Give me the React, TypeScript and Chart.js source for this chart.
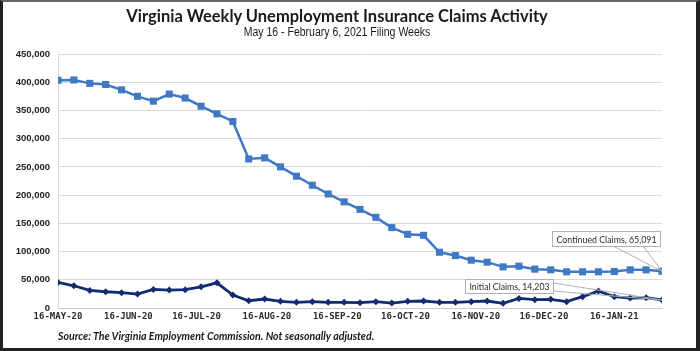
import React, { useEffect, useRef } from "react";
import { Chart, registerables } from "chart.js";

Chart.register(...registerables);

const firstWeek = "2020-05-16";

const continuedClaims = [
  403500, 404000, 398000, 396000, 386500, 375000, 366500, 379000, 372000, 357500,
  344000, 330500, 264000, 266000, 250000, 233500, 217500, 202000, 188000, 174700,
  160600, 142400, 130600, 128800, 98800, 92900, 84700, 81200, 72900, 74100,
  68800, 67600, 64100, 64100, 64100, 64700, 67600, 67600, 65091,
];

const initialClaims = [
  45300, 39400, 31200, 28800, 27100, 24700, 32900, 31800, 32400, 37600,
  44700, 22900, 12900, 15900, 11800, 10000, 11200, 10000, 10000, 9400,
  11200, 8800, 11800, 12400, 10000, 10000, 11200, 12400, 8200, 17000,
  14700, 15300, 11200, 20000, 30000, 20000, 17600, 18200, 14203,
];

const tickDates = [
  "2020-05-16", "2020-06-16", "2020-07-16", "2020-08-16", "2020-09-16",
  "2020-10-16", "2020-11-16", "2020-12-16", "2021-01-16",
];
const tickLabels = [
  "16-MAY-20", "16-JUN-20", "16-JUL-20", "16-AUG-20", "16-SEP-20",
  "16-OCT-20", "16-NOV-20", "16-DEC-20", "16-JAN-21",
];

const seriesNames = ["Continued Claims", "Initial Claims"];

const DAY = 86400000;
const dayOffset = (d: string) =>
  Math.round((Date.parse(d + "T00:00:00Z") - Date.parse(firstWeek + "T00:00:00Z")) / DAY);
const tickDays = tickDates.map(dayOffset);

const fmt = (v: number) => v.toLocaleString("en-US");

const calloutPlugin = {
  id: "callouts",
  afterDatasetsDraw(chart: any) {
    const ctx = chart.ctx;
    const drawCallout = (dsIndex: number, text: string, boxX: number, boxY: number, w: number, h: number, a: [number, number], b: [number, number]) => {
      const meta = chart.getDatasetMeta(dsIndex);
      const pt = meta.data[meta.data.length - 1];
      ctx.save();
      ctx.strokeStyle = "#b0b0b0";
      ctx.lineWidth = 1;
      ctx.fillStyle = "#ffffff";
      ctx.beginPath();
      ctx.moveTo(a[0], a[1]);
      ctx.lineTo(pt.x, pt.y);
      ctx.lineTo(b[0], b[1]);
      ctx.stroke();
      ctx.fillRect(boxX, boxY, w, h);
      ctx.strokeRect(boxX + 0.5, boxY + 0.5, w, h);
      ctx.fillStyle = "#2a2a2a";
      ctx.font = "10px Lato, 'Liberation Sans', sans-serif";
      ctx.textAlign = "center";
      ctx.textBaseline = "middle";
      ctx.fillText(text, boxX + w / 2 + 0.5, boxY + h / 2 + 1, w - 8);
      ctx.restore();
    };
    drawCallout(0, `${seriesNames[0]}, ${fmt(continuedClaims[continuedClaims.length - 1])}`,
      552, 231, 108, 15, [613, 246], [643, 246]);
    drawCallout(1, `${seriesNames[1]}, ${fmt(initialClaims[initialClaims.length - 1])}`,
      465, 279, 88, 14, [553, 283], [553, 291]);
  },
};

export default function App() {
  const ref = useRef<HTMLCanvasElement | null>(null);

  useEffect(() => {
    if (!ref.current) return;
    const xs = continuedClaims.map((_, i) => i * 7);
    const chart = new Chart(ref.current, {
      type: "line",
      data: {
        datasets: [
          {
            label: seriesNames[0],
            data: continuedClaims.map((v, i) => ({ x: xs[i], y: v })),
            borderColor: "#3f78c3",
            backgroundColor: "#3f78c3",
            borderWidth: 2.5,
            pointStyle: "rect",
            pointRadius: 5,
            pointBorderWidth: 0,
            tension: 0,
          },
          {
            label: seriesNames[1],
            data: initialClaims.map((v, i) => ({ x: xs[i], y: v })),
            borderColor: "#122c72",
            backgroundColor: "#122c72",
            borderWidth: 2.8,
            pointStyle: "rectRot",
            pointRadius: 3.5,
            pointBorderWidth: 0,
            tension: 0,
          },
        ],
      },
      options: {
        responsive: false,
        animation: false,
        layout: { padding: { left: 0, right: 38, top: 54, bottom: 0 } },
        plugins: {
          legend: { display: false },
          tooltip: { enabled: false },
          title: { display: false },
        },
        scales: {
          x: {
            type: "linear",
            min: 0,
            max: (continuedClaims.length - 1) * 7,
            afterBuildTicks: (axis: any) => {
              axis.ticks = tickDays.map((v) => ({ value: v }));
            },
            afterFit: (axis: any) => {
              axis.height = 43;
            },
            ticks: {
              autoSkip: false,
              maxRotation: 0,
              padding: 3,
              color: "#2a2a2a",
              font: { family: "'DejaVu Sans Mono', monospace", size: 9, weight: "bold" },
              callback: (v: any) => {
                const idx = tickDays.indexOf(Number(v));
                return idx >= 0 ? tickLabels[idx] : "";
              },
            },
            grid: { display: false, drawTicks: false },
            border: { display: true, color: "#c8c8c8", width: 1 },
          },
          y: {
            min: 0,
            max: 450000,
            afterFit: (axis: any) => {
              axis.width = 58;
            },
            ticks: {
              stepSize: 50000,
              padding: 8,
              color: "#222222",
              font: { family: "'Liberation Sans', Arial, sans-serif", size: 9.5, weight: "bold" },
              callback: (v: any) => fmt(Number(v)),
            },
            grid: { color: "#d9d9d9", lineWidth: 1, drawTicks: false },
            border: { display: true, color: "#d9d9d9", width: 1 },
          },
        },
      },
      plugins: [calloutPlugin],
    });
    return () => chart.destroy();
  }, []);

  return (
    <div
      style={{
        position: "absolute",
        left: 0,
        top: 0,
        width: 700,
        height: 351,
        background: "#ffffff",
        overflow: "hidden",
      }}
    >
      <canvas ref={ref} width={700} height={351} style={{ position: "absolute", left: 0, top: 0 }} />
      <div
        style={{
          position: "absolute",
          left: 0,
          top: 7,
          width: 674,
          textAlign: "center",
          fontFamily: "Lato, 'Open Sans', sans-serif",
          fontWeight: 700,
          fontSize: 16.5,
          color: "#1a1a1a",
          lineHeight: "18px",
        }}
      >
        Virginia Weekly Unemployment Insurance Claims Activity
      </div>
      <div
        style={{
          position: "absolute",
          left: 0,
          top: 25,
          width: 674,
          textAlign: "center",
          fontFamily: "'Liberation Sans', sans-serif",
          fontSize: 12.5,
          color: "#1a1a1a",
          lineHeight: "14px",
          transform: "scaleX(0.84)",
          transformOrigin: "337px 0",
        }}
      >
        May 16 - February 6, 2021 Filing Weeks
      </div>
      <div
        style={{
          position: "absolute",
          left: 58,
          top: 330,
          whiteSpace: "nowrap",
          fontFamily: "Lato, 'Liberation Sans', sans-serif",
          fontWeight: 700,
          fontStyle: "italic",
          fontSize: 10.6,
          color: "#1a1a1a",
          lineHeight: "13px",
        }}
      >
        Source: The Virginia Employment Commission. Not seasonally adjusted.
      </div>
      <div
        style={{
          position: "absolute",
          left: 0,
          top: 0,
          width: 700,
          height: 351,
          boxSizing: "border-box",
          borderTop: "2px solid #666",
          borderLeft: "3px solid #222",
          borderRight: "4px solid #222",
          borderBottom: "3px solid #222",
          pointerEvents: "none",
        }}
      />
    </div>
  );
}
